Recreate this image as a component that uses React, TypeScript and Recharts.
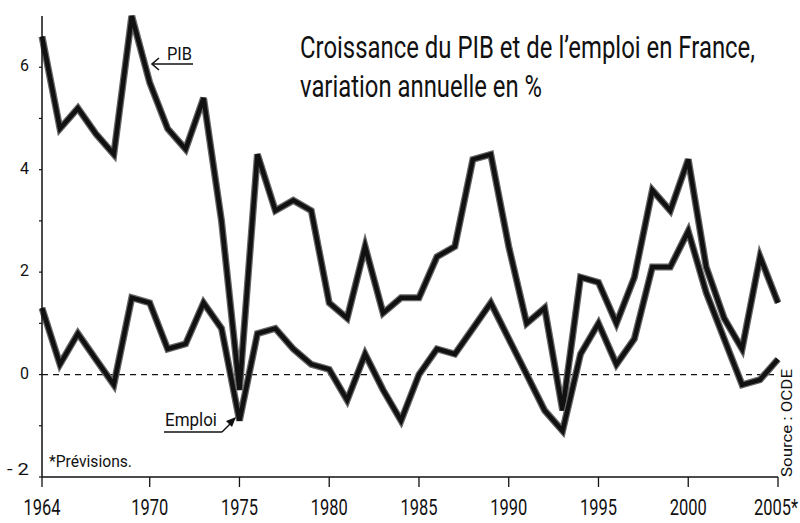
import React from "react";
import { LineChart, Line, XAxis, YAxis, ReferenceLine } from "recharts";

const years = [
  1964, 1965, 1966, 1967, 1968, 1969, 1970, 1971, 1972, 1973,
  1974, 1975, 1976, 1977, 1978, 1979, 1980, 1981, 1982, 1983,
  1984, 1985, 1986, 1987, 1988, 1989, 1990, 1991, 1992, 1993,
  1994, 1995, 1996, 1997, 1998, 1999, 2000, 2001, 2002, 2003,
  2004, 2005,
];
const pib = [
  6.6, 4.8, 5.2, 4.7, 4.3, 7.0, 5.7, 4.8, 4.4, 5.4,
  3.0, -0.3, 4.3, 3.2, 3.4, 3.2, 1.4, 1.1, 2.5, 1.2,
  1.5, 1.5, 2.3, 2.5, 4.2, 4.3, 2.5, 1.0, 1.3, -0.7,
  1.9, 1.8, 1.0, 1.9, 3.6, 3.2, 4.2, 2.1, 1.1, 0.5,
  2.3, 1.4,
];
const emploi = [
  1.3, 0.2, 0.8, 0.3, -0.2, 1.5, 1.4, 0.5, 0.6, 1.4,
  0.9, -0.9, 0.8, 0.9, 0.5, 0.2, 0.1, -0.5, 0.4, -0.3,
  -0.9, 0.0, 0.5, 0.4, 0.9, 1.4, 0.7, 0.0, -0.7, -1.1,
  0.4, 1.0, 0.2, 0.7, 2.1, 2.1, 2.8, 1.6, 0.7, -0.2,
  -0.1, 0.3,
];
const xTicks = [1964, 1970, 1975, 1980, 1985, 1990, 1995, 2000, 2005];
const yTicks = [-2, -1, 0, 1, 2, 3, 4, 5, 6];
const titleLines = ["Croissance du PIB et de l\u2019emploi en France,", "variation annuelle en %"];

const data = years.map((y, i) => ({ year: y, pib: pib[i], emploi: emploi[i] }));

const FONT = "Roboto, 'Liberation Sans', sans-serif";

// Condensed text: horizontal scale transform + exact length
const SqText = (p: any) => {
  const { x, y, width, sx, fontSize, anchor = "start", children, rotate } = p;
  const tf = rotate
    ? `translate(${x},${y}) rotate(${rotate}) scale(${sx},1)`
    : `translate(${x},${y}) scale(${sx},1)`;
  return (
    <g transform={tf}>
      <text x={0} y={0} textAnchor={anchor} fontFamily={FONT} fontSize={fontSize} fill="#111"
        textLength={width / sx} lengthAdjust="spacingAndGlyphs">
        {children}
      </text>
    </g>
  );
};

const XTick = (props: any) => {
  const { x, y, payload } = props;
  const last = payload.value === 2005;
  const label = last ? "2005*" : String(payload.value);
  return last ? (
    <SqText x={x - 24} y={y + 24} width={44} sx={0.75} fontSize={22}>{label}</SqText>
  ) : (
    <SqText x={x} y={y + 24} width={37} sx={0.75} fontSize={22} anchor="middle">{label}</SqText>
  );
};

const YTick = (props: any) => {
  const { x, y, payload } = props;
  if (payload.value % 2 !== 0) return <g />;
  const neg = payload.value < 0;
  const label = neg ? "- " + Math.abs(payload.value) : String(payload.value);
  return (
    <text x={x} y={neg ? y - 2 : y + 4} textAnchor="end"
      fontFamily={FONT} fontSize={17} fill="#111"
      textLength={neg ? 22 : 9} lengthAdjust="spacingAndGlyphs">
      {label}
    </text>
  );
};

export default function App() {
  return (
    <div style={{ position: "absolute", left: 0, top: 0, width: 800, height: 523, background: "#fff" }}>
      <LineChart width={800} height={523} data={data}
        margin={{ top: 16, right: 22, bottom: 0, left: 0 }}>
        <XAxis dataKey="year" type="number" domain={[1964, 2005]} ticks={xTicks}
          height={46} tick={<XTick />} tickSize={10} tickMargin={4}
          axisLine={{ stroke: "#111", strokeWidth: 1.5 }} tickLine={{ stroke: "#111", strokeWidth: 1.3 }}
          interval={0} />
        <XAxis xAxisId="top" orientation="top" dataKey="year" type="number" domain={[1964, 2005]}
          height={0} tick={false} tickLine={false} axisLine={{ stroke: "#111", strokeWidth: 1.2 }} />
        <YAxis type="number" domain={[-2, 7]} ticks={yTicks} width={42} tick={<YTick />}
          tickSize={3} tickMargin={10} interval={0}
          axisLine={{ stroke: "#111", strokeWidth: 1.5 }} tickLine={{ stroke: "#111", strokeWidth: 1.2 }} />
        <YAxis yAxisId="right" orientation="right" type="number" domain={[-2, 7]} width={0}
          tick={false} tickLine={false} axisLine={{ stroke: "#111", strokeWidth: 1.2 }} />
        <ReferenceLine y={0} stroke="#111" strokeWidth={1.3} strokeDasharray="6 5" />
        <Line type="linear" dataKey="pib" stroke="#666" strokeWidth={7} dot={false}
          isAnimationActive={false} strokeLinejoin="miter" />
        <Line type="linear" dataKey="pib" stroke="#111" strokeWidth={4.5} dot={false}
          isAnimationActive={false} strokeLinejoin="miter" />
        <Line type="linear" dataKey="emploi" stroke="#666" strokeWidth={7} dot={false}
          isAnimationActive={false} strokeLinejoin="miter" />
        <Line type="linear" dataKey="emploi" stroke="#111" strokeWidth={4.5} dot={false}
          isAnimationActive={false} strokeLinejoin="miter" />
      </LineChart>
      <svg width={800} height={523} style={{ position: "absolute", left: 0, top: 0, pointerEvents: "none" }}>
        <SqText x={300} y={58} width={455} sx={0.69} fontSize={31}>{titleLines[0]}</SqText>
        <SqText x={300} y={97} width={242} sx={0.69} fontSize={31}>{titleLines[1]}</SqText>
        {/* PIB annotation */}
        <SqText x={167} y={60} width={25} sx={0.92} fontSize={18}>PIB</SqText>
        <line x1={153} y1={64} x2={193} y2={64} stroke="#111" strokeWidth={1.4} />
        <polyline points="159,58 152,64 159,70" fill="none" stroke="#111" strokeWidth={1.6} />
        {/* Emploi annotation */}
        <SqText x={165} y={426} width={52} sx={0.94} fontSize={18}>Emploi</SqText>
        <line x1={164} y1={432} x2={222} y2={432} stroke="#111" strokeWidth={1.4} />
        <line x1={222} y1={432} x2={233} y2={421} stroke="#111" strokeWidth={1.4} />
        <polygon points="236,417 226,421 232,427" fill="#111" />
        <SqText x={49} y={467} width={83} sx={0.85} fontSize={17}>*Prévisions.</SqText>
        <SqText x={792} y={423} width={108} sx={1} fontSize={14} anchor="middle" rotate={-90}>Source : OCDE</SqText>
      </svg>
    </div>
  );
}
